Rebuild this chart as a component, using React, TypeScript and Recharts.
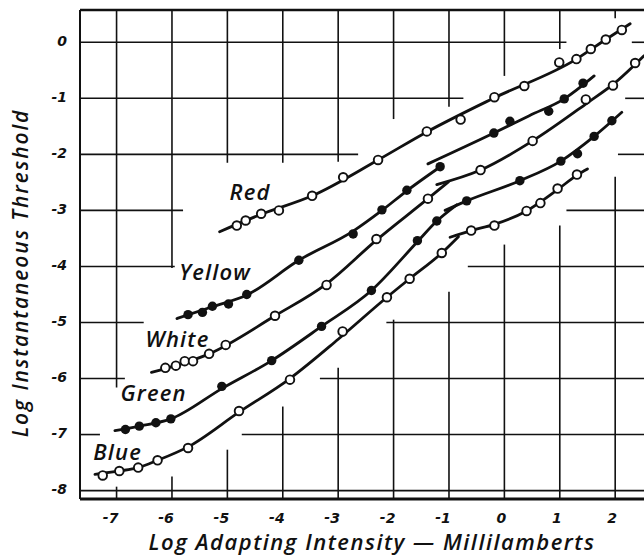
import { ComposedChart, Line, ReferenceLine, Scatter, XAxis, YAxis } from "recharts";

// axis extents (the frame sits a bit outside the last grid lines)
const X_MIN = -7.66;
const X_MAX = 2.52;
const Y_MIN = -8.15;
const Y_MAX = 0.576;
const X_TICKS = [-7, -6, -5, -4, -3, -2, -1, 0, 1, 2];
const Y_TICKS = [-8, -7, -6, -5, -4, -3, -2, -1, 0];

// measured thresholds, [log adapting intensity, log threshold]
const redPts = [
  [-4.83, -3.27], [-4.67, -3.18], [-4.39, -3.06], [-4.07, -3.0], [-3.47, -2.74], [-2.91, -2.41],
  [-2.28, -2.1], [-1.4, -1.59], [-0.79, -1.38], [-0.18, -0.98], [0.36, -0.78], [0.99, -0.36],
  [1.3, -0.3], [1.56, -0.12], [1.83, 0.05], [2.12, 0.22],
];
const yellowPts = [
  [-5.71, -4.86], [-5.45, -4.82], [-5.27, -4.71], [-4.98, -4.67], [-4.65, -4.5], [-3.71, -3.89],
  [-2.73, -3.42], [-2.21, -2.99], [-1.76, -2.64], [-1.16, -2.22], [-0.19, -1.62], [0.1, -1.41],
  [0.8, -1.23], [1.08, -1.01], [1.42, -0.73],
];
const whitePts = [
  [-6.12, -5.81], [-5.93, -5.77], [-5.77, -5.69], [-5.62, -5.69], [-5.33, -5.56], [-5.03, -5.4],
  [-4.14, -4.88], [-3.21, -4.33], [-2.31, -3.51], [-1.38, -2.79], [-0.43, -2.28], [0.51, -1.76],
  [1.47, -1.02], [1.96, -0.77], [2.36, -0.37],
];
const greenPts = [
  [-6.84, -6.91], [-6.59, -6.85], [-6.29, -6.79], [-6.02, -6.72], [-5.1, -6.14], [-4.2, -5.68],
  [-3.3, -5.07], [-2.4, -4.43], [-1.57, -3.54], [-1.22, -3.19], [-0.68, -2.83], [0.28, -2.47],
  [1.02, -2.12], [1.32, -1.99], [1.62, -1.68], [1.94, -1.4],
];
const bluePts = [
  [-7.25, -7.73], [-6.95, -7.65], [-6.61, -7.59], [-6.26, -7.46], [-5.71, -7.24], [-4.79, -6.58],
  [-3.87, -6.02], [-2.92, -5.16], [-2.12, -4.55], [-1.71, -4.22], [-1.13, -3.76], [-0.6, -3.36],
  [-0.18, -3.27], [0.4, -3.01], [0.65, -2.87], [0.96, -2.61], [1.31, -2.36],
];

// hand-drawn fitted curves, traced along the plate (rod branch + cone branch)
const redCurve = [
  [-5.14, -3.38], [-4.39, -3.07], [-3.47, -2.74], [-2.28, -2.1], [-1.4, -1.6], [-0.18, -0.99],
  [1.3, -0.3], [1.83, 0.05], [2.27, 0.33],
];
const yellowRod = [
  [-5.91, -4.93], [-5.27, -4.72], [-4.65, -4.51], [-3.71, -3.89], [-2.73, -3.37], [-2.21, -3.0],
  [-1.76, -2.65], [-1.11, -2.19],
];
const yellowCone = [[-1.38, -2.17], [-0.19, -1.62], [0.45, -1.31], [1.08, -1.01], [1.62, -0.6]];
const whiteRod = [
  [-6.37, -5.89], [-5.93, -5.77], [-5.33, -5.56], [-4.14, -4.88], [-3.21, -4.31], [-2.31, -3.53],
  [-1.38, -2.79], [-1.01, -2.49],
];
const whiteCone = [[-1.22, -2.54], [-0.43, -2.28], [0.51, -1.76], [1.5, -1.08], [2.0, -0.72], [2.52, -0.24]];
const greenRod = [
  [-7.03, -6.93], [-6.59, -6.85], [-6.02, -6.72], [-5.1, -6.18], [-4.2, -5.68], [-3.3, -5.07],
  [-2.4, -4.43], [-1.57, -3.56], [-1.22, -3.19], [-0.86, -2.9],
];
const greenCone = [[-1.07, -3.0], [-0.68, -2.83], [0.28, -2.47], [1.02, -2.12], [1.62, -1.68], [2.12, -1.25]];
const blueRod = [
  [-7.39, -7.71], [-6.95, -7.65], [-6.61, -7.59], [-6.26, -7.46], [-5.71, -7.22], [-4.79, -6.6],
  [-3.87, -6.0], [-3.0, -5.3], [-2.12, -4.55], [-1.71, -4.22], [-1.13, -3.76], [-0.83, -3.47],
];
const blueCone = [[-0.98, -3.48], [-0.6, -3.36], [-0.18, -3.25], [0.4, -3.01], [0.96, -2.63], [1.31, -2.37], [1.5, -2.26]];

// curve names and where they are lettered (centre x, baseline y)
const curveNames = ["Red", "Yellow", "White", "Green", "Blue"];
const nameAt = [[-4.59, -2.81], [-5.22, -4.25], [-5.9, -5.43], [-6.33, -6.41], [-6.98, -7.46]];

// the draftsman broke the grid where the curves run: [value, end of first piece, start of second piece]
const vGrid = [
  [-7, -6.16, -7.93], [-6, -4.03, -7.75], [-5, -2.15, -7.27], [-4, -2.15, -6.5], [-3, -2.13, -5.81],
  [-2, -1.37, -4.95], [-1, -1.15, -4.45], [0, -0.6, -3.61], [1, -0.12, -3.27], [2, 0.43, -2.4],
];
const hGrid = [
  [0, 1.12, 2.3], [-1, -0.74, 2.18], [-2, -2.64, 2.05], [-3, -5.8, 1.12], [-4, -5.95, -0.66],
  [-5, -6.51, -2.13], [-6, -6.85, -3.33], [-7, -7.3, -4.74], [-8, X_MAX, X_MAX],
];

const toXY = (rows: number[][]) => rows.map(([x, y]) => ({ x, y }));

const INK = "#111";
const TICK_FONT = "'DejaVu Sans', sans-serif";
const LETTERING = "'Open Sans', 'DejaVu Sans', sans-serif";

const OpenDot = (p: any) => (
  <circle cx={p.cx} cy={p.cy} r={4.3} fill="#fff" stroke={INK} strokeWidth={1.9} />
);
const FilledDot = (p: any) => <circle cx={p.cx} cy={p.cy} r={4.7} fill={INK} />;

const NameTag = (p: any) => (
  <text
    x={p.cx}
    y={p.cy}
    textAnchor="middle"
    fontFamily={LETTERING}
    fontStyle="italic"
    fontWeight={600}
    fontSize={22}
    letterSpacing={1.2}
    fill={INK}
  >
    {p.payload?.name ?? p.name}
  </text>
);

const XTick = ({ x, y, payload }: any) => {
  const v = payload.value as number;
  const cx = x - 3;
  return (
    <g fontFamily={TICK_FONT} fontStyle="italic" fontWeight="bold" fontSize={14} fill={INK}>
      <text x={cx} y={y + 22} textAnchor="middle">
        {Math.abs(v)}
      </text>
      {v < 0 && (
        <text x={cx - 5} y={y + 21} textAnchor="end">
          -
        </text>
      )}
    </g>
  );
};

const YTick = ({ x, y, payload }: any) => (
  <text
    x={x}
    y={y + 3.5}
    textAnchor="end"
    fontFamily={TICK_FONT}
    fontStyle="italic"
    fontWeight="bold"
    fontSize={14}
    fill={INK}
  >
    {payload.value}
  </text>
);

// axis titles are placed against the plate, not the plot box
const YTitle = () => (
  <text
    x={20}
    y={273}
    transform="rotate(-90 20 273)"
    textAnchor="middle"
    dominantBaseline="central"
    fontFamily={LETTERING}
    fontStyle="italic"
    fontWeight={600}
    fontSize={21}
    letterSpacing={1.9}
    fill={INK}
  >
    Log Instantaneous Threshold
  </text>
);

const XTitle = () => (
  <text
    x={372}
    y={550}
    textAnchor="middle"
    fontFamily={LETTERING}
    fontStyle="italic"
    fontWeight={600}
    fontSize={22}
    letterSpacing={1.5}
    fill={INK}
  >
    Log Adapting Intensity — Millilamberts
  </text>
);

export default function App() {
  const curves = [redCurve, yellowRod, yellowCone, whiteRod, whiteCone, greenRod, greenCone, blueRod, blueCone];
  const series = [
    { pts: redPts, open: true },
    { pts: yellowPts, open: false },
    { pts: whitePts, open: true },
    { pts: greenPts, open: false },
    { pts: bluePts, open: true },
  ];
  const names = curveNames.map((name, i) => ({ name, x: nameAt[i][0], y: nameAt[i][1] }));

  return (
    <div style={{ position: "absolute", left: 0, top: 0, background: "#fff" }}>
      <ComposedChart width={644} height={557} margin={{ top: 10, right: 0, bottom: 0, left: 0 }}>
        <XAxis
          type="number"
          dataKey="x"
          domain={[X_MIN, X_MAX]}
          ticks={X_TICKS}
          allowDataOverflow
          height={58}
          tickLine={false}
          tickSize={0}
          tick={<XTick />}
          axisLine={{ stroke: INK, strokeWidth: 3 }}
          label={<XTitle />}
        />
        <YAxis
          type="number"
          dataKey="y"
          domain={[Y_MIN, Y_MAX]}
          ticks={Y_TICKS}
          allowDataOverflow
          width={80}
          tickLine={false}
          tickSize={0}
          tickMargin={13}
          tick={<YTick />}
          axisLine={{ stroke: INK, strokeWidth: 2 }}
          label={<YTitle />}
        />
        <ReferenceLine y={Y_MAX} stroke={INK} strokeWidth={2.5} ifOverflow="visible" />
        {vGrid.map(([x, a, b]) => [
          <ReferenceLine key={`v${x}a`} segment={[{ x, y: Y_MAX }, { x, y: a }]} stroke={INK} strokeWidth={1.6} ifOverflow="visible" />,
          <ReferenceLine key={`v${x}b`} segment={[{ x, y: b }, { x, y: Y_MIN }]} stroke={INK} strokeWidth={1.6} ifOverflow="visible" />,
        ])}
        {hGrid.map(([y, a, b]) => [
          <ReferenceLine key={`h${y}a`} segment={[{ x: X_MIN, y }, { x: a, y }]} stroke={INK} strokeWidth={1.6} ifOverflow="visible" />,
          b < X_MAX ? (
            <ReferenceLine key={`h${y}b`} segment={[{ x: b, y }, { x: X_MAX, y }]} stroke={INK} strokeWidth={1.6} ifOverflow="visible" />
          ) : null,
        ])}
        {curves.map((c, i) => (
          <Line
            key={`c${i}`}
            data={toXY(c)}
            dataKey="y"
            type="monotone"
            stroke={INK}
            strokeWidth={2.8}
            strokeLinecap="round"
            dot={false}
            activeDot={false}
            isAnimationActive={false}
          />
        ))}
        {series.map((s, i) => (
          <Scatter
            key={`s${i}`}
            data={toXY(s.pts)}
            dataKey="y"
            shape={s.open ? OpenDot : FilledDot}
            isAnimationActive={false}
          />
        ))}
        <Scatter data={names} dataKey="y" shape={NameTag} isAnimationActive={false} />
      </ComposedChart>
    </div>
  );
}
